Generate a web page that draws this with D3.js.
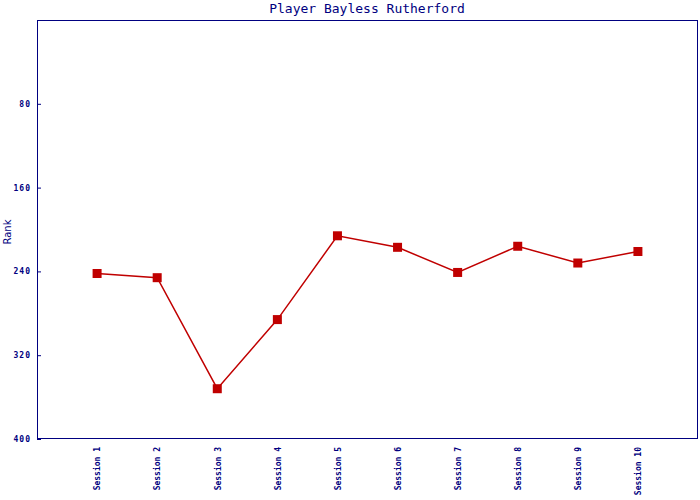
<!DOCTYPE html>
<html><head><meta charset="utf-8">
<script src="https://cdn.jsdelivr.net/npm/d3@7"></script>
<style>body{margin:0;background:#fff}</style>
</head><body>
<svg id="c" width="700" height="500"></svg>
<script>
const categories = ["Session 1","Session 2","Session 3","Session 4","Session 5","Session 6","Session 7","Session 8","Session 9","Session 10"];
const ranks = [242, 246, 352, 286, 206, 217, 241, 216, 232, 221];
const yTicks = [80, 160, 240, 320, 400];
const title = "Player Bayless Rutherford";
const yLabel = "Rank";

const navy = "#000080", red = "#c00000";
const svg = d3.select("#c");
const L = 37, R = 698, T = 20, B = 439;
const x = d3.scalePoint().domain(categories).range([L, R]).padding(1);
const y = d3.scaleLinear().domain([0, 400]).range([T, B]);

svg.append("rect").attr("x", L + 0.5).attr("y", T + 0.5).attr("width", R - L - 1).attr("height", B - T - 1)
  .attr("fill", "none").attr("stroke", navy).attr("stroke-width", 1);

const ya = svg.append("g").attr("transform", `translate(${L},0)`)
  .call(d3.axisLeft(y).tickValues(yTicks).tickSize(-4).tickPadding(6).tickFormat(d3.format("d")));
ya.select(".domain").attr("stroke", navy);
ya.selectAll(".tick line").attr("stroke", navy);
ya.selectAll(".tick text").attr("fill", navy).style("font-family", "DejaVu Sans Mono").style("font-size", "8px").style("font-weight", "bold").style("letter-spacing", "1px");

const xa = svg.append("g").attr("transform", `translate(0,${B})`)
  .call(d3.axisBottom(x).tickSize(0));
xa.select(".domain").remove();
xa.selectAll(".tick text").attr("fill", navy).style("font-family", "DejaVu Sans Mono").style("font-size", "8px").style("font-weight", "bold")
  .attr("transform", "rotate(-90)").attr("text-anchor", "end").attr("x", -8).attr("y", 0).attr("dy", "0.35em");

svg.append("text").attr("x", 367).attr("y", 13).attr("text-anchor", "middle").attr("fill", navy)
  .style("font-family", "DejaVu Sans Mono").style("font-size", "13px").text(title);

svg.append("text").attr("transform", "translate(11,232) rotate(-90)").attr("text-anchor", "middle").attr("fill", navy)
  .style("font-family", "DejaVu Sans").style("font-size", "10px").text(yLabel);

svg.append("path").datum(ranks).attr("fill", "none").attr("stroke", red).attr("stroke-width", 1.5)
  .attr("d", d3.line().x((d, i) => x(categories[i])).y(d => y(d)));

svg.selectAll("rect.m").data(ranks).join("rect").attr("class", "m")
  .attr("x", (d, i) => x(categories[i]) - 4.5).attr("y", d => y(d) - 4.5)
  .attr("width", 9).attr("height", 9).attr("fill", red);
</script>
</body></html>
